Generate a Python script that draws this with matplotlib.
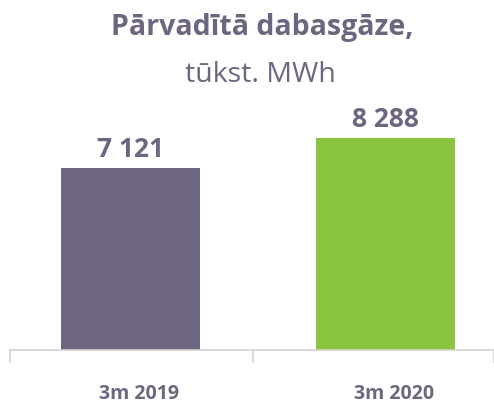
import matplotlib
matplotlib.use("Agg")
import matplotlib.pyplot as plt

categories = ["3m 2019", "3m 2020"]
values = [7121, 8288]
value_labels = ["7 121", "8 288"]
colors = ["#6E6680", "#8AC53F"]
title_main = "Pārvadītā dabasgāze,"
title_sub = "tūkst. MWh"

txt = "#6E6680"
plt.rcParams['font.family'] = ['Open Sans', 'DejaVu Sans']

W, H = 494, 405
fig = plt.figure(figsize=(W/100, H/100), dpi=100)
# axes spanning x 10..494 px, bottom at y=350 px, top at y=43 px
ax = fig.add_axes([10/W, 55/H, 484/W, 307/H])
ax.set_xlim(-0.473, 1.425)
ax.set_ylim(0, 12000)

x = list(range(len(categories)))
ax.bar(x, values, width=0.545, color=colors)
for xi, v, lab in zip(x, values, value_labels):
    ax.annotate(lab, (xi, v), xytext=(0, 7.9), textcoords="offset points",
                ha="center", va="baseline", fontsize=19, fontweight="bold", color=txt)

for s in ["top", "right", "left"]:
    ax.spines[s].set_visible(False)
ax.spines["bottom"].set_color("#D3D3D3")
ax.spines["bottom"].set_linewidth(1.2)
ax.set_yticks([])

ax.set_xticks([])
for xi, c in zip(x, categories):
    ax.annotate(c, (xi, 0), xytext=(6, -49 * 0.72), textcoords="offset points",
                ha="center", va="baseline", fontsize=14, fontweight="bold", color=txt)
ax.set_xticks([-0.473, 0.48, 1.425], minor=True)
ax.tick_params(axis="x", which="minor", length=9, color="#D3D3D3", width=1.2)

fig.text(262/W, 1 - 35/H, title_main, ha="center", va="baseline",
         fontsize=20.5, fontweight="bold", color=txt)
fig.text(260/W, 1 - 82/H, title_sub, ha="center", va="baseline",
         fontsize=20.5, color=txt)

fig.savefig("out.png", dpi=100)
